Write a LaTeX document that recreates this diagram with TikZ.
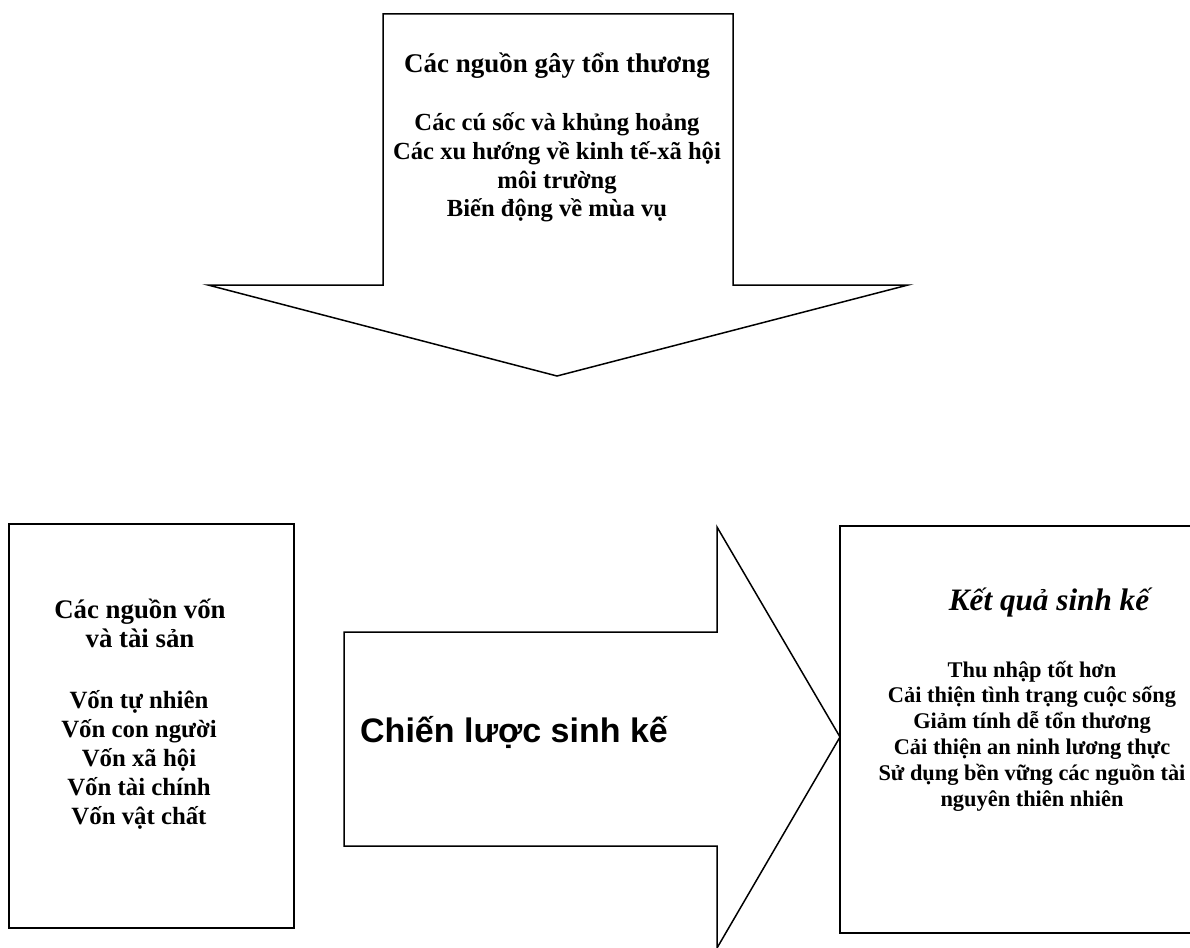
\documentclass[tikz,border=0pt]{standalone}
\usepackage{fontspec}
\setmainfont{Liberation Serif}
\newfontfamily\arialfont{Liberation Sans}
\newcommand\linestack[2]{\vtop{\baselineskip=#1\lineskiplimit=-1000pt\lineskip=0pt\halign{\hfil##\hfil\cr #2\crcr}}}
\tikzset{
  shape line/.style={draw=black, line width=1.5pt, line join=miter},
  txt/.style={anchor=base, inner sep=0pt, text=black},
}
\begin{document}
\begin{tikzpicture}[x=1pt, y=-1pt]
\useasboundingbox (0,0) rectangle (1190,947);
\clip (0,0) rectangle (1190,947);
\fill[white] (0,0) rectangle (1190,947);
% top block arrow
\draw[shape line] (383,285) -- (383,14) -- (733,14) -- (733,285) -- (908,285) -- (557,376) -- (208,285) -- cycle;
% left box
\draw[shape line] (9,524) rectangle (294,928);
% middle block arrow
\draw[shape line] (344,632) -- (717,632) -- (717,527) -- (840,737) -- (717,948) -- (717,846) -- (344,846) -- cycle;
% right box
\draw[shape line] (840,526) rectangle (1200,933);
% texts
\node[txt] (vtitle) at (557,73) {\fontsize{27}{28.6}\selectfont\bfseries Các nguồn gây tổn thương};
\node[txt] (vitems) at (557,131) {\fontsize{24.6}{28.6}\selectfont\bfseries\linestack{28.6pt}{Các cú sốc và khủng hoảng\cr Các xu hướng về kinh tế-xã hội\cr môi trường\cr Biến động về mùa vụ}};
\node[txt] (ctitle) at (140,618) {\fontsize{26.8}{29.5}\selectfont\bfseries\linestack{29.5pt}{Các nguồn vốn\cr và tài sản}};
\node[txt] (citems) at (139,708) {\fontsize{24.8}{29.2}\selectfont\bfseries\linestack{29.2pt}{Vốn tự nhiên\cr Vốn con người\cr Vốn xã hội\cr Vốn tài chính\cr Vốn vật chất}};
\node[txt] (strat) at (514,742) {\arialfont\fontsize{34}{40}\selectfont\bfseries Chiến lược sinh kế};
\node[txt] (otitle) at (1049,610) {\fontsize{31.2}{34}\selectfont\bfseries\itshape Kết quả sinh kế};
\node[txt] (oitems) at (1032,677) {\fontsize{22.4}{26}\selectfont\bfseries\linestack{25.8pt}{Thu nhập tốt hơn\cr Cải thiện tình trạng cuộc sống\cr Giảm tính dễ tổn thương\cr Cải thiện an ninh lương thực\cr Sử dụng bền vững các nguồn tài\cr nguyên thiên nhiên}};
\end{tikzpicture}
\end{document}
